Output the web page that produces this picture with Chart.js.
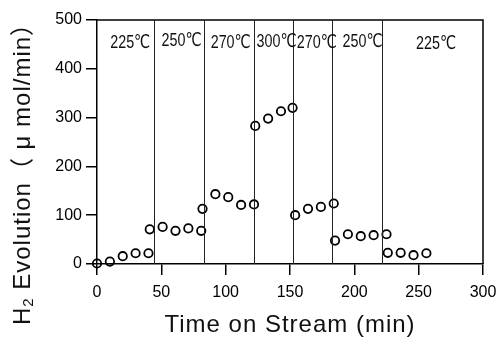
<!DOCTYPE html>
<html>
<head>
<meta charset="utf-8">
<script src="https://cdn.jsdelivr.net/npm/chart.js@4.4.1/dist/chart.umd.min.js"></script>
<style>
html,body{margin:0;padding:0;background:#fff;}
#wrap{width:499px;height:348px;position:relative;}
</style>
</head>
<body>
<div id="wrap"><canvas id="c" width="499" height="348"></canvas></div>
<script>
// ---- data ----
const times  = [0, 10, 20, 30, 40, 41, 51, 61, 71, 81, 82, 92, 102, 112, 122, 123, 133, 143, 152, 154, 164, 174, 184, 185, 195, 205, 215, 225, 226, 236, 246, 256];
const values = [1, 5, 16, 22, 22, 71, 76, 68, 73, 68, 113, 143, 137, 121, 122, 283, 298, 313, 320, 100, 113, 117, 124, 48, 61, 57, 59, 61, 23, 23, 18, 22];
const switchTimes = [44, 83.5, 122.3, 152.5, 182.6, 221.8];
const tempLabels = ['225℃', '250℃', '270℃', '300℃', '270℃', '250℃', '225℃'];
const tempLabelX = [25.8, 65.7, 103.9, 139.6, 170.8, 206.4, 263.5];
const tempLabelY = [453, 458, 453, 456, 453, 455, 452];
const xTicks = [0, 50, 100, 150, 200, 250, 300];
const yTicks = [0, 100, 200, 300, 400, 500];
const xTitle = 'Time on Stream (min)';
const yTitleParts = ['H', '2', ' Evolution（ μ mol/min）'];

const LABEL_W = 40; // rendered width of each temperature label, px

const annot = {
  id: 'annot',
  afterDatasetsDraw(chart) {
    const {ctx, chartArea: a, scales: {x, y}} = chart;
    ctx.save();
    // frame top & right
    ctx.strokeStyle = '#000';
    ctx.lineWidth = 1.5;
    ctx.beginPath();
    ctx.moveTo(a.left, a.top); ctx.lineTo(a.right, a.top); ctx.lineTo(a.right, a.bottom);
    ctx.stroke();
    // switch lines
    ctx.lineWidth = 1;
    ctx.strokeStyle = '#222';
    switchTimes.forEach(t => {
      const px = Math.round(x.getPixelForValue(t)) + 0.5;
      ctx.beginPath(); ctx.moveTo(px, a.top); ctx.lineTo(px, a.bottom); ctx.stroke();
    });
    // temperature labels
    ctx.fillStyle = '#111';
    ctx.font = '19px "Liberation Sans", "DejaVu Sans", sans-serif';
    ctx.textAlign = 'center';
    ctx.textBaseline = 'middle';
    tempLabels.forEach((s, i) => {
      const w = ctx.measureText(s).width;
      ctx.save();
      ctx.translate(x.getPixelForValue(tempLabelX[i]), y.getPixelForValue(tempLabelY[i]));
      ctx.scale(LABEL_W / w, 1);
      ctx.fillText(s, 0, 0);
      ctx.restore();
    });
    // x title
    ctx.font = '24px "Liberation Sans", sans-serif';
    ctx.letterSpacing = '1px';
    ctx.fillText(xTitle, (a.left + a.right) / 2, 325);
    // y title
    ctx.translate(23, 168);
    ctx.rotate(-Math.PI / 2);
    const big = '24px "Liberation Sans", "Noto Sans CJK JP", sans-serif';
    const small = '15px "Liberation Sans", sans-serif';
    ctx.textAlign = 'left';
    ctx.font = big; const w0 = ctx.measureText(yTitleParts[0]).width;
    ctx.font = small; const w1 = ctx.measureText(yTitleParts[1]).width;
    ctx.font = big; const w2 = ctx.measureText(yTitleParts[2]).width;
    let cx = -(w0 + w1 + w2) / 2;
    ctx.font = big; ctx.fillText(yTitleParts[0], cx, 0); cx += w0;
    ctx.font = small; ctx.fillText(yTitleParts[1], cx, 6); cx += w1;
    ctx.font = big; ctx.fillText(yTitleParts[2], cx, 0);
    ctx.restore();
  }
};

new Chart(document.getElementById('c'), {
  type: 'scatter',
  data: {
    datasets: [{
      data: times.map((t, i) => ({x: t, y: values[i]})),
      pointStyle: 'circle',
      pointRadius: 4.2,
      pointBorderWidth: 1.8,
      borderColor: '#000',
      backgroundColor: 'rgba(255,255,255,0)',
      clip: false
    }]
  },
  options: {
    responsive: false,
    animation: false,
    devicePixelRatio: 1,
    layout: {padding: {left: 0, right: 16, top: 20, bottom: 0}},
    plugins: {legend: {display: false}, tooltip: {enabled: false}},
    scales: {
      x: {
        type: 'linear', min: 0, max: 300,
        afterBuildTicks: s => { s.ticks = xTicks.map(v => ({value: v})); },
        afterFit: s => { s.height = 84; s.paddingRight = 0; s.paddingLeft = 0; },
        border: {color: '#000', width: 1.5},
        grid: {drawOnChartArea: false, drawTicks: true, tickLength: 11, color: '#000', lineWidth: 1.5},
        ticks: {color: '#000', padding: 8, maxRotation: 0, font: {family: '"Liberation Sans Narrow", "Liberation Sans", sans-serif', size: 16}}
      },
      y: {
        type: 'linear', min: 0, max: 500,
        afterBuildTicks: s => { s.ticks = yTicks.map(v => ({value: v})); },
        afterFit: s => { s.width = 97; s.paddingTop = 0; s.paddingBottom = 0; },
        border: {color: '#000', width: 1.5},
        grid: {drawOnChartArea: false, drawTicks: true, tickLength: 11, color: '#000', lineWidth: 1.5},
        ticks: {color: '#000', padding: 4, font: {family: '"Liberation Sans Narrow", "Liberation Sans", sans-serif', size: 16}}
      }
    }
  },
  plugins: [annot]
});
</script>
</body>
</html>
